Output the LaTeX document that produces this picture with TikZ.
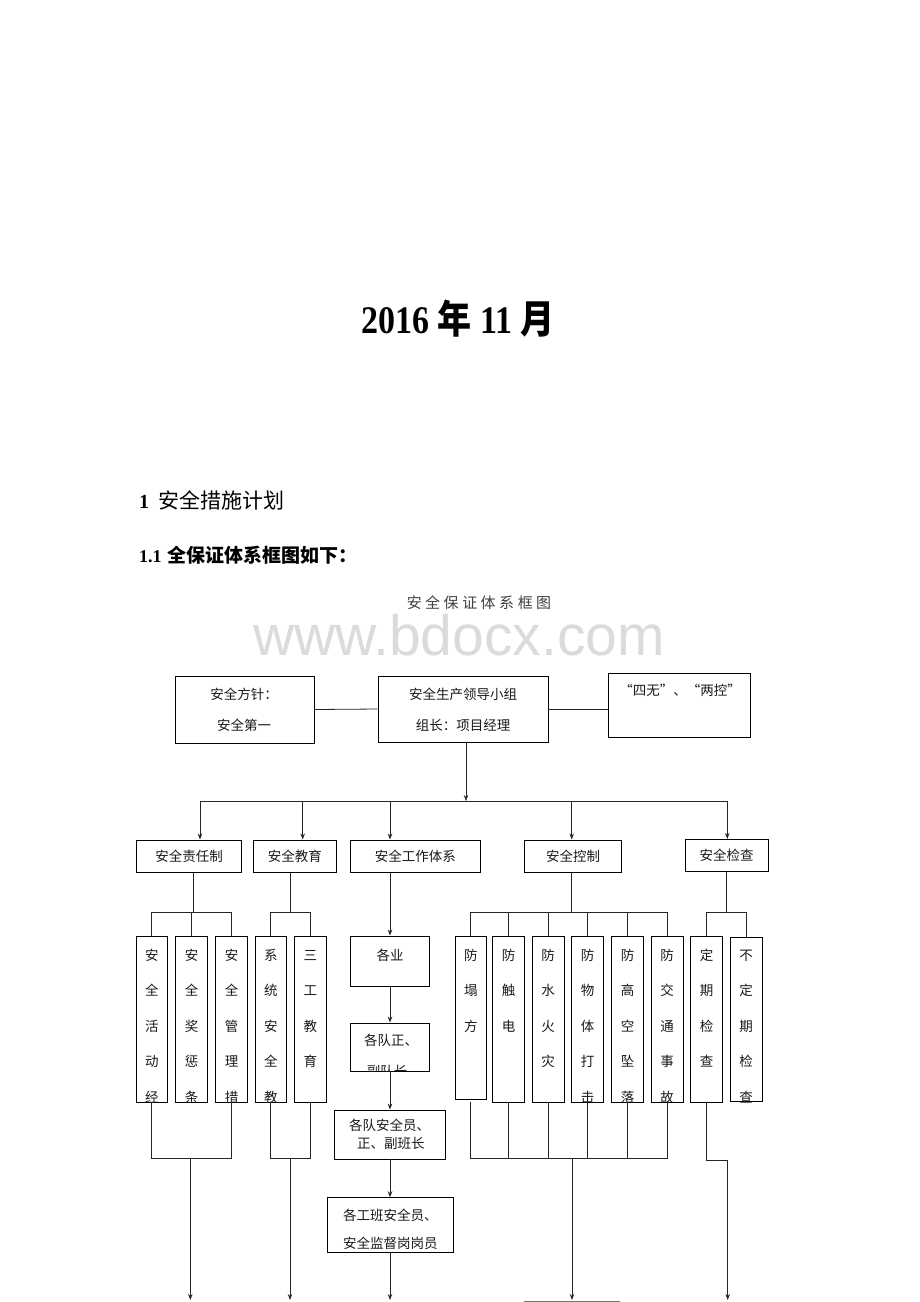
\documentclass[tikz,border=0pt]{standalone}
\usepackage{fontspec}
\setmainfont{Liberation Serif}
\newfontfamily\cjk{Noto Sans CJK SC}
\newfontfamily\wmfont{Liberation Sans}
\usetikzlibrary{arrows.meta}
\tikzset{
 rbox/.style={draw=black, line width=0.9pt, inner sep=0pt, font=\cjk\fontsize{13.5}{16}\selectfont, text=black!90},
 conn/.style={draw=black!85, line width=0.8pt},
 arr/.style={conn, -{Stealth[length=6pt,width=4.5pt]}},
 lbl/.style={inner sep=0pt, font=\cjk\fontsize{13.5}{16}\selectfont, text=black!90},
}
\newcommand\mkvcol[3]{%
 \begin{scope}
 \clip (#1.south west) rectangle (#1.north east);
 \foreach \c [count=\i from 0] in {#3}{\node[lbl, anchor=base] (#1t\i) at (#2, 960+35.5*\i) {\c};}
 \end{scope}}
\begin{document}
\begin{tikzpicture}[x=1pt,y=-1pt]
\useasboundingbox (0,0) rectangle (920,1302);
% headings
\node[inner sep=0pt, anchor=base] (title) at (458,333) {\scalebox{1}[1.15]{\fontsize{34}{40}\selectfont\bfseries 2016 {\cjk 年} 11 {\cjk 月}}};
\node[inner sep=0pt, anchor=base west] (h1) at (139,508) {\fontsize{20}{24}\selectfont\bfseries 1\hspace{9pt}{\cjk\mdseries\fontsize{21}{24}\selectfont 安全措施计划}};
\node[inner sep=0pt, anchor=base west] (h2) at (139,562) {\fontsize{18}{22}\selectfont\bfseries 1.1\hspace{6pt}{\cjk\fontsize{19}{22}\selectfont 全保证体系框图如下：}};
\node[inner sep=0pt, anchor=base, text=black!75] (cap) at (479,608) {\cjk\fontsize{15}{18}\selectfont 安\kern3.5pt 全\kern3.5pt 保\kern3.5pt 证\kern3.5pt 体\kern3.5pt 系\kern3.5pt 框\kern3.5pt 图};
\node[inner sep=0pt, anchor=base, text=black!14] (wm) at (459,655) {\wmfont\fontsize{57}{60}\selectfont www.bdocx.com};

% top row
\node[rbox, minimum width=139pt, minimum height=67pt] (fz) at (244.5,709.5) {};
\node[lbl, anchor=base] (fz1) at (244,699) {安全方针：};
\node[lbl, anchor=base] (fz2) at (244,730) {安全第一};
\node[rbox, minimum width=170pt, minimum height=66pt] (ld) at (463,709) {};
\node[lbl, anchor=base] (ld1) at (463,699) {安全生产领导小组};
\node[lbl, anchor=base] (ld2) at (463,730) {组长：项目经理};
\node[rbox, minimum width=142pt, minimum height=64pt] (sw) at (679,705) {};
\node[lbl, anchor=base] (sw1) at (680,695) {“四无”、“两控”};
\draw[conn] (fz.east) -- (ld.west);
\draw[conn] (ld.east) -- (ld.east -| sw.west);

% second row
\node[rbox, minimum width=105pt, minimum height=32.7pt] (zr) at (189.2,856.3) {安全责任制};
\node[rbox, minimum width=83.7pt, minimum height=32.7pt] (jy) at (294.8,856.3) {安全教育};
\node[rbox, minimum width=130.7pt, minimum height=32.7pt] (tx) at (415.3,856.3) {安全工作体系};
\node[rbox, minimum width=97.4pt, minimum height=32.7pt] (kz) at (573,856.3) {安全控制};
\node[rbox, minimum width=83.3pt, minimum height=31.7pt] (jc) at (726.7,855.2) {安全检查};

\coordinate (top) at (466,801);
\coordinate (j1) at (200,801);
\coordinate (j2) at (302.7,801);
\coordinate (j3) at (390,801);
\coordinate (j4) at (571.7,801);
\coordinate (j5) at (727.3,801);
\draw[arr] (ld.south -| top) -- (top);
\draw[conn] (j1) -- (j5);
\draw[arr] (j1) -- (j1 |- zr.north);
\draw[arr] (j2) -- (j2 |- jy.north);
\draw[arr] (j3) -- (j3 |- tx.north);
\draw[arr] (j4) -- (j4 |- kz.north);
\draw[arr] (j5) -- (j5 |- jc.north);

% third row vertical boxes
\node[rbox, minimum width=31.7pt, minimum height=166pt] (a1) at (151.8,1019) {};
\node[rbox, minimum width=31.7pt, minimum height=166pt] (a2) at (191.5,1019) {};
\node[rbox, minimum width=31.7pt, minimum height=166pt] (a3) at (231.5,1019) {};
\node[rbox, minimum width=31.7pt, minimum height=166pt] (b1) at (270.8,1019) {};
\node[rbox, minimum width=32pt, minimum height=166pt] (b2) at (310.3,1019) {};
\node[rbox, minimum width=31.7pt, minimum height=162.6pt] (c1) at (470.8,1018) {};
\node[rbox, minimum width=31.7pt, minimum height=166pt] (c2) at (508.5,1019) {};
\node[rbox, minimum width=31.7pt, minimum height=166pt] (c3) at (548.1,1019) {};
\node[rbox, minimum width=32pt, minimum height=166pt] (c4) at (587.7,1019) {};
\node[rbox, minimum width=31.7pt, minimum height=166pt] (c5) at (627.5,1019) {};
\node[rbox, minimum width=31.7pt, minimum height=166pt] (c6) at (667.1,1019) {};
\node[rbox, minimum width=32pt, minimum height=166pt] (d1) at (706.7,1019) {};
\node[rbox, minimum width=31.7pt, minimum height=164pt] (d2) at (746.2,1019.7) {};

\mkvcol{a1}{151.8}{安,全,活,动,经}
\mkvcol{a2}{191.5}{安,全,奖,惩,条}
\mkvcol{a3}{231.5}{安,全,管,理,措}
\mkvcol{b1}{270.8}{系,统,安,全,教}
\mkvcol{b2}{310.3}{三,工,教,育}
\mkvcol{c1}{470.8}{防,塌,方}
\mkvcol{c2}{508.5}{防,触,电}
\mkvcol{c3}{548.1}{防,水,火,灾}
\mkvcol{c4}{587.7}{防,物,体,打,击}
\mkvcol{c5}{627.5}{防,高,空,坠,落}
\mkvcol{c6}{667.1}{防,交,通,事,故}
\mkvcol{d1}{706.7}{定,期,检,查}
\mkvcol{d2}{746.2}{不,定,期,检,查}

% branches 2 -> 3
\coordinate (zb) at (193.3,912);
\draw[conn] (zr.south -| zb) -- (zb);
\draw[conn] (a1.north |- zb) -- (a3.north |- zb);
\foreach \n in {a1,a2,a3} \draw[conn] (\n.north |- zb) -- (\n.north);
\coordinate (jb) at (290,912);
\draw[conn] (jy.south -| jb) -- (jb);
\draw[conn] (b1.north |- jb) -- (b2.north |- jb);
\foreach \n in {b1,b2} \draw[conn] (\n.north |- jb) -- (\n.north);
\coordinate (kb) at (571.7,912);
\draw[conn] (kz.south -| kb) -- (kb);
\draw[conn] (c1.north |- kb) -- (c6.north |- kb);
\foreach \n in {c1,c2,c3,c4,c5,c6} \draw[conn] (\n.north |- kb) -- (\n.north);
\coordinate (cb) at (726,912);
\draw[conn] (jc.south -| cb) -- (cb);
\draw[conn] (d1.north |- cb) -- (d2.north |- cb);
\foreach \n in {d1,d2} \draw[conn] (\n.north |- cb) -- (\n.north);

% work system chain
\node[rbox, minimum width=79.3pt, minimum height=50.7pt] (yw) at (389.7,961.3) {};
\node[lbl, anchor=base] (yw1) at (390,960) {各业};
\node[rbox, minimum width=79.3pt, minimum height=48pt] (dz) at (389.7,1047) {};
\node[lbl, anchor=base west] (dz1) at (364,1045) {各队正、};
\begin{scope}
\clip (dz.south west) rectangle (dz.north east);
\node[lbl, anchor=base] (dz2) at (387,1076) {副队长};
\end{scope}
\node[rbox, minimum width=111pt, minimum height=49pt] (dq) at (389.8,1134.5) {};
\node[lbl, anchor=base west] (dq1) at (349,1130) {各队安全员、};
\node[lbl, anchor=base west] (dq2) at (357,1148) {正、副班长};
\node[rbox, minimum width=125.3pt, minimum height=54.6pt] (gb) at (390.5,1225) {};
\node[lbl, anchor=base west] (gb1) at (343,1220) {各工班安全员、};
\node[lbl, anchor=base west] (gb2) at (343,1248) {安全监督岗岗员};
\coordinate (wx) at (390,1300);
\draw[arr] (tx.south -| wx) -- (wx |- yw.north);
\draw[arr] (yw.south -| wx) -- (wx |- dz.north);
\draw[arr] (dz.south -| wx) -- (wx |- dq.north);
\draw[arr] (dq.south -| wx) -- (wx |- gb.north);
\draw[arr] (gb.south -| wx) -- (wx);

% bottom collectors
\coordinate (zl) at (190.3,1158);
\coordinate (ze) at (190.3,1300);
\draw[conn] (a1.south) -- (a1.south |- zl) -- (a3.south |- zl) -- (a3.south);
\draw[arr] (zl) -- (ze);
\coordinate (jl) at (290,1158);
\coordinate (je) at (290,1300);
\draw[conn] (b1.south) -- (b1.south |- jl) -- (b2.south |- jl) -- (b2.south);
\draw[arr] (jl) -- (je);
\coordinate (kl) at (572,1158);
\coordinate (ke) at (572,1300);
\draw[conn] (c1.south |- a1.south) -- (c1.south |- kl) -- (c6.south |- kl) -- (c6.south);
\foreach \n in {c2,c3,c4,c5} \draw[conn] (\n.south) -- (\n.south |- kl);
\draw[arr] (kl) -- (ke);
\coordinate (dk) at (727.7,1160);
\coordinate (de) at (727.7,1300);
\draw[arr] (d1.south) -- (d1.south |- dk) -- (dk) -- (de);

% partial line at bottom edge
\coordinate (g1) at (524,1301);
\coordinate (g2) at (620,1301);
\draw[draw=black!55, line width=0.8pt] (g1) -- (g2);
\end{tikzpicture}
\end{document}
